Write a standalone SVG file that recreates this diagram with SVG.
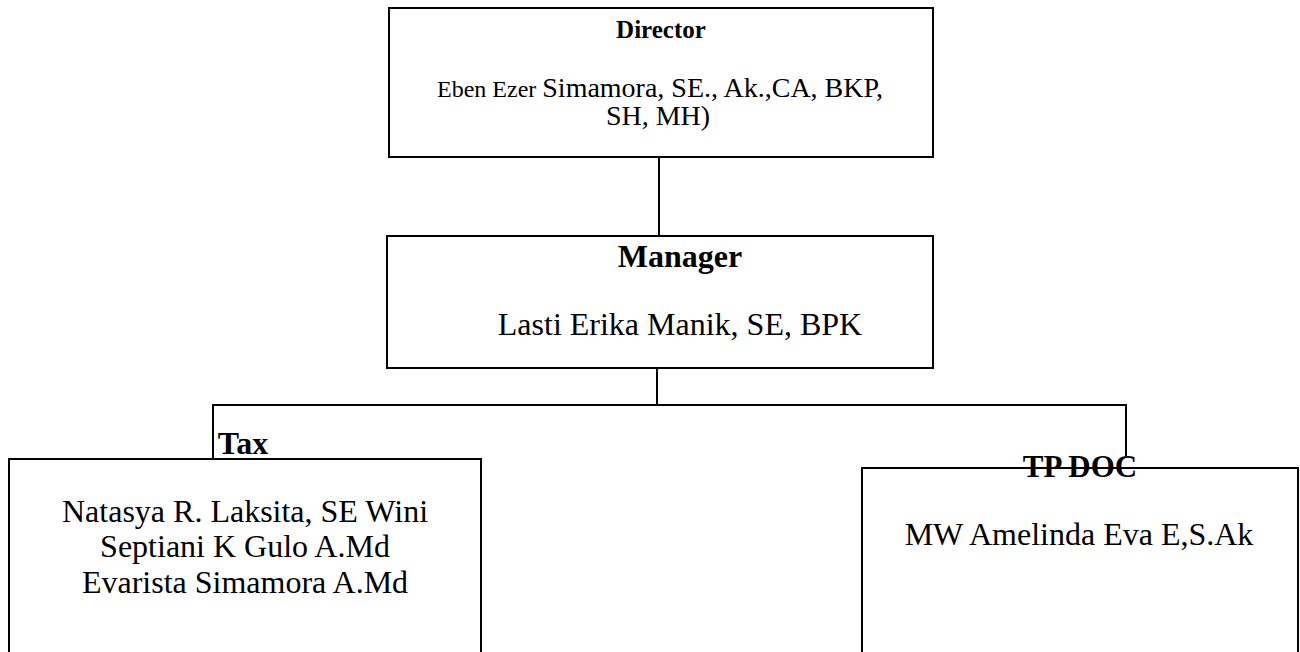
<svg xmlns="http://www.w3.org/2000/svg" width="1300" height="652" viewBox="0 0 1300 652">
<style>
.box{fill:#fff;stroke:#000;stroke-width:2}
.ln{stroke:#000;stroke-width:2;fill:none}
text{font-family:"Liberation Serif","Times New Roman",serif;fill:#000;text-anchor:middle}
.b{font-weight:bold}
</style>
<rect width="1300" height="652" fill="#fff"/>
<g id="connectors">
<line class="ln" x1="659" y1="157" x2="659" y2="236"/>
<line class="ln" x1="657" y1="368" x2="657" y2="405"/>
<line class="ln" x1="212" y1="405" x2="1127" y2="405"/>
<line class="ln" x1="213" y1="405" x2="213" y2="459"/>
<line class="ln" x1="1126" y1="405" x2="1126" y2="456"/>
</g>
<g id="director">
<rect class="box" x="389" y="8" width="544" height="149"/>
<text class="b" x="661" y="38" font-size="25">Director</text>
<text x="660" y="97"><tspan font-size="24">Eben Ezer </tspan><tspan font-size="28">Simamora, SE., Ak.,CA, BKP,</tspan></text>
<text x="658" y="125" font-size="28">SH, MH)</text>
</g>
<g id="manager">
<rect class="box" x="387" y="236" width="546" height="132"/>
<text class="b" x="680" y="267" font-size="32">Manager</text>
<text x="680" y="335" font-size="32">Lasti Erika Manik, SE, BPK</text>
</g>
<g id="tax">
<rect class="box" x="9" y="459" width="472" height="220"/>
<text class="b" x="243" y="454" font-size="32">Tax</text>
<text x="245" y="522" font-size="32">Natasya R. Laksita, SE Wini</text>
<text x="245" y="557" font-size="32">Septiani K Gulo A.Md</text>
<text x="245" y="593" font-size="32">Evarista Simamora A.Md</text>
</g>
<g id="tpdoc">
<rect class="box" x="862" y="468" width="436" height="220"/>
<text class="b" x="1080" y="477" font-size="31">TP DOC</text>
<text x="1079" y="545" font-size="32">MW Amelinda Eva E,S.Ak</text>
</g>
</svg>
